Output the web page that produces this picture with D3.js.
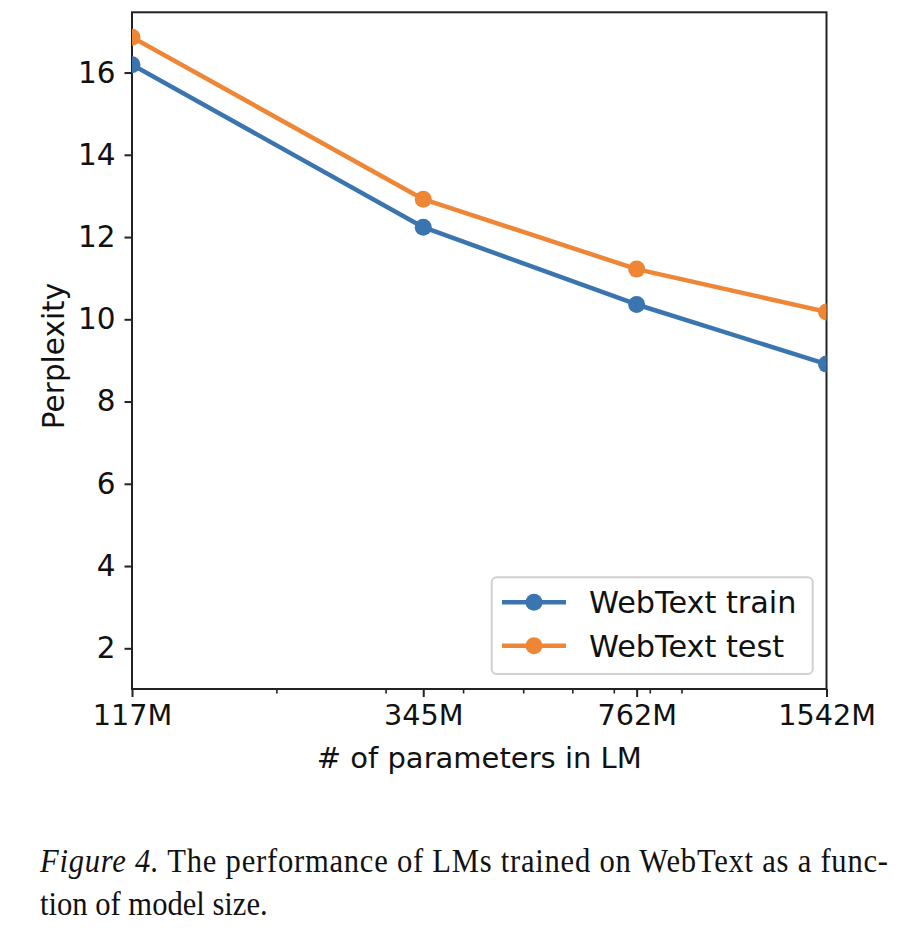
<!DOCTYPE html>
<html>
<head>
<meta charset="utf-8">
<script src="https://cdn.jsdelivr.net/npm/d3@7"></script>
<style>
  body { margin: 0; background: #fff; }
  svg text { font-family: "DejaVu Sans", sans-serif; }
</style>
</head>
<body>
<div id="chart"></div>
<script>
// model sizes (millions of parameters) and perplexities
const sizeLabels = ["117M", "345M", "762M", "1542M"];
const sizes = [117, 345, 762, 1542];
const trainPpl = [16.19, 12.24, 10.36, 8.91];
const testPpl = [16.86, 12.92, 11.22, 10.18];
const yTicks = [2, 4, 6, 8, 10, 12, 14, 16];
const minorTicks = [200, 300, 400, 500, 600, 700, 800, 900];
const seriesNames = ["WebText train", "WebText test"];

const W = 906, H = 944;
const BLUE = "#3a75af", ORANGE = "#ef8636";

const svg = d3.select("#chart")
	.append("svg")
		.attr("width", W)
		.attr("height", H);

svg.append("rect").attr("width", W).attr("height", H).attr("fill", "#fff");

const PL = 132, PR = 826.5, PT = 12.3, PB = 689;

const x = d3.scaleLog().domain([117, 1542]).range([PL, PR]);
const y = d3.scaleLinear().domain([1.01, 17.465]).range([PB, PT]);

// minor ticks on the log axis
svg.append("g")
	.attr("transform", `translate(0,${PB})`)
	.call(d3.axisBottom(x).tickValues(minorTicks).tickSize(4.5).tickFormat(""))
	.call(g => g.select(".domain").remove())
	.call(g => g.selectAll("line").attr("stroke", "#222").attr("stroke-width", 1.6));

// major x ticks
svg.append("g")
	.attr("transform", `translate(0,${PB})`)
	.call(d3.axisBottom(x).tickValues(sizes).tickSize(8).tickPadding(8)
		.tickFormat((d, i) => sizeLabels[i]))
	.call(g => g.select(".domain").remove())
	.call(g => g.selectAll("line").attr("stroke", "#222").attr("stroke-width", 2))
	.call(g => g.selectAll("text").attr("font-size", 28.7).attr("fill", "#111")
		.attr("font-family", "DejaVu Sans"));

// y ticks
svg.append("g")
	.attr("transform", `translate(${PL},0)`)
	.call(d3.axisLeft(y).tickValues(yTicks).tickSize(7.5).tickPadding(9))
	.call(g => g.select(".domain").remove())
	.call(g => g.selectAll("line").attr("stroke", "#222").attr("stroke-width", 2))
	.call(g => g.selectAll("text").attr("font-size", 29.5).attr("fill", "#111")
		.attr("font-family", "DejaVu Sans"));

// frame
svg.append("rect")
	.attr("x", PL).attr("y", PT)
	.attr("width", PR - PL).attr("height", PB - PT)
	.attr("fill", "none").attr("stroke", "#222").attr("stroke-width", 2);

// series
svg.append("clipPath").attr("id", "plotclip")
	.append("rect").attr("x", PL).attr("y", PT)
	.attr("width", PR - PL).attr("height", PB - PT);

const plot = svg.append("g").attr("clip-path", "url(#plotclip)");
const line = d3.line().x((d, i) => x(sizes[i])).y(d => y(d));

[[trainPpl, BLUE], [testPpl, ORANGE]].map(([vals, col]) => {
	plot.append("path")
		.attr("d", line(vals))
		.attr("fill", "none")
		.attr("stroke", col)
		.attr("stroke-width", 4.5)
		.attr("stroke-linejoin", "round");
	vals.map((v, i) => {
		plot.append("circle")
			.attr("cx", x(sizes[i]))
			.attr("cy", y(v))
			.attr("r", 8.5)
			.attr("fill", col);
	});
});

// axis labels
svg.append("text")
	.attr("x", (PL + PR) / 2).attr("y", 768)
	.attr("text-anchor", "middle")
	.attr("font-size", 29).attr("fill", "#111")
	.text("# of parameters in LM");

svg.append("text")
	.attr("transform", "translate(64,356) rotate(-90)")
	.attr("text-anchor", "middle")
	.attr("font-size", 29.5).attr("fill", "#111")
	.text("Perplexity");

// legend
const lg = svg.append("g");
lg.append("rect")
	.attr("x", 491.7).attr("y", 577.3)
	.attr("width", 321).attr("height", 96.7)
	.attr("rx", 5)
	.attr("fill", "#fff").attr("fill-opacity", 0.8)
	.attr("stroke", "#d0d0d0").attr("stroke-width", 2);

[BLUE, ORANGE].map((col, i) => {
	const ly = 602.3 + i * 43.4;
	lg.append("line")
		.attr("x1", 502).attr("x2", 566)
		.attr("y1", ly).attr("y2", ly)
		.attr("stroke", col).attr("stroke-width", 4.5);
	lg.append("circle")
		.attr("cx", 534).attr("cy", ly).attr("r", 8.5).attr("fill", col);
	lg.append("text")
		.attr("x", 589).attr("y", ly)
		.attr("dy", "0.36em")
		.attr("font-size", 30.3).attr("fill", "#111")
		.text(seriesNames[i]);
});

// caption (Times-like, slightly taller than wide as in the source PDF)
const capG = svg.append("g")
	.attr("transform", "translate(40,0) scale(1,1.08)");

const cap = capG.append("text")
	.attr("x", 0).attr("y", 872 / 1.08)
	.attr("font-size", 30.6).attr("fill", "#111")
	.attr("textLength", 848).attr("lengthAdjust", "spacing")
	.style("font-family", "'Liberation Serif', serif");
cap.append("tspan").attr("font-style", "italic").text("Figure 4.");
cap.append("tspan").text(" The performance of LMs trained on WebText as a func-");

capG.append("text")
	.attr("x", 0).attr("y", 915 / 1.08)
	.attr("font-size", 30.6).attr("fill", "#111")
	.style("font-family", "'Liberation Serif', serif")
	.text("tion of model size.");
</script>
</body>
</html>
